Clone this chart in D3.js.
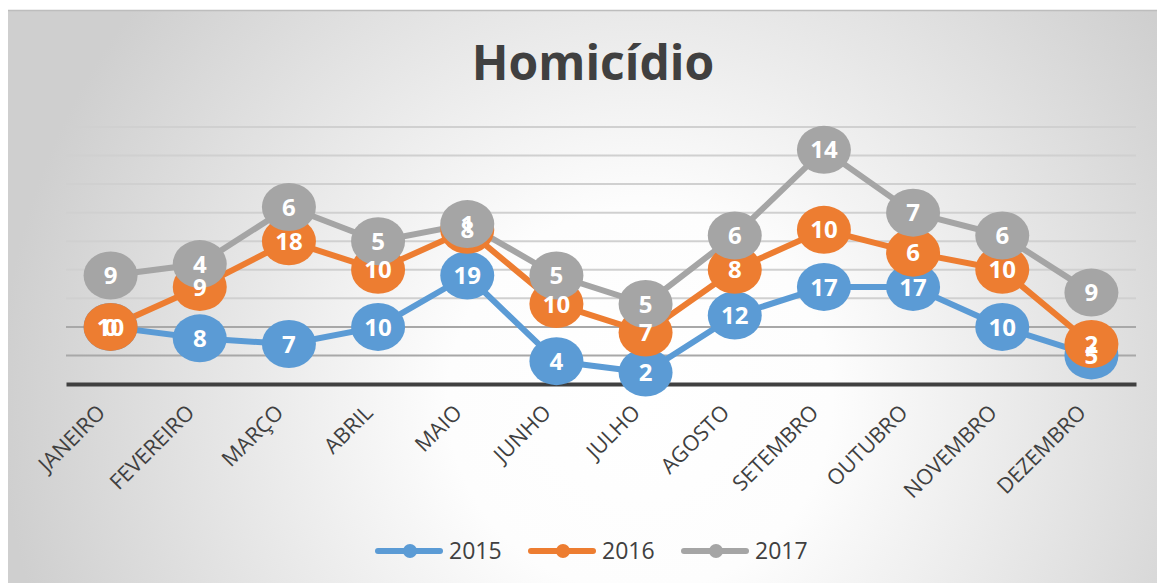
<!DOCTYPE html>
<html>
<head>
<meta charset="utf-8">
<script src="https://cdn.jsdelivr.net/npm/d3@7"></script>
<style>
  body { margin: 0; background: #fff; }
  svg { display: block; font-family: 'Open Sans', 'Noto Sans', sans-serif; }
</style>
</head>
<body>
<div id="chart"></div>
<script>
// Data
const months = ['JANEIRO', 'FEVEREIRO', 'MARÇO', 'ABRIL', 'MAIO', 'JUNHO',
  'JULHO', 'AGOSTO', 'SETEMBRO', 'OUTUBRO', 'NOVEMBRO', 'DEZEMBRO'];
const years = ['2015', '2016', '2017'];
const v2015 = [10, 8, 7, 10, 19, 4, 2, 12, 17, 17, 10, 5];
const v2016 = [0, 9, 18, 10, 8, 10, 7, 8, 10, 6, 10, 2];
const v2017 = [9, 4, 6, 5, 1, 5, 5, 6, 14, 7, 6, 9];
const yTicks = [0, 5, 10, 15, 20, 25, 30, 35, 40, 45];
const colors = ['#5B9BD5', '#ED7D31', '#A5A5A5'];

const svgWidth = 1157, svgHeight = 583;
const margin = { top: 127, right: 21, bottom: 199, left: 66 };
const chartWidth = svgWidth - margin.left - margin.right;
const chartHeight = svgHeight - margin.top - margin.bottom;

const svg = d3.select('#chart').append('svg')
  .attr('width', svgWidth)
  .attr('height', svgHeight);

// Background gradient
const defs = svg.append('defs');
const grad = defs.append('radialGradient')
  .attr('id', 'bg')
  .attr('gradientUnits', 'userSpaceOnUse')
  .attr('cx', 640).attr('cy', 400).attr('r', 640);
grad.append('stop').attr('offset', '0%').attr('stop-color', '#ffffff');
grad.append('stop').attr('offset', '30%').attr('stop-color', '#fdfdfd');
grad.append('stop').attr('offset', '100%').attr('stop-color', '#cfcfcf');

svg.append('rect')
  .attr('x', 8).attr('y', 10)
  .attr('width', svgWidth - 8).attr('height', svgHeight - 10)
  .attr('fill', 'url(#bg)');
svg.append('line')
  .attr('x1', 8).attr('x2', svgWidth)
  .attr('y1', 10.5).attr('y2', 10.5)
  .attr('stroke', '#bdbdbd').attr('stroke-width', 1.5);

// Stack the series
const series = [v2015, v2016, v2017];
const stacked = [];
let running = months.map(() => 0);
series.forEach((vals, i) => {
  running = running.map((r, j) => r + vals[j]);
  stacked.push(months.map((m, j) => ({ month: m, value: vals[j], total: running[j], year: years[i] })));
});

// Scales
const xScale = d3.scaleBand().domain(months).range([0, chartWidth]);
const yScale = d3.scaleLinear().domain([0, 45]).range([chartHeight, 0]);

const chart = svg.append('g')
  .attr('transform', `translate(${margin.left}, ${margin.top})`);

// Gridlines
chart.append('g')
  .selectAll('line')
  .data(yTicks.slice(1))
  .enter()
  .append('line')
  .attr('x1', 0).attr('x2', chartWidth)
  .attr('y1', d => yScale(d)).attr('y2', d => yScale(d))
  .attr('stroke', (d, i) => i < 2 ? '#a8a8a8' : '#d0d0d0')
  .attr('stroke-width', 2);

// X axis
const xAxis = chart.append('g')
  .attr('transform', `translate(0, ${chartHeight})`)
  .call(d3.axisBottom(xScale).tickSize(0).tickPadding(0));
xAxis.attr('font-family', null);
xAxis.select('.domain').attr('stroke', '#404040').attr('stroke-width', 4);
xAxis.selectAll('text')
  .attr('fill', '#404040')
  .style('font-size', '21.5px')
  .style('font-family', "'Open Sans', sans-serif")
  .attr('text-anchor', 'end')
  .attr('dy', 0)
  .attr('transform', 'translate(-4, 30) rotate(-45)');

const cx = d => xScale(d.month) + xScale.bandwidth() / 2;
const line = d3.line().x(cx).y(d => yScale(d.total));

// Lines
chart.selectAll('.series-line')
  .data(stacked)
  .enter()
  .append('path')
  .attr('class', 'series-line')
  .attr('d', d => line(d))
  .attr('fill', 'none')
  .attr('stroke', (d, i) => colors[i])
  .attr('stroke-width', 6)
  .attr('stroke-linejoin', 'round');

// Markers
stacked.forEach((s, i) => {
  chart.append('g')
    .selectAll('ellipse')
    .data(s)
    .enter()
    .append('ellipse')
    .attr('cx', cx)
    .attr('cy', d => yScale(d.total))
    .attr('rx', 27)
    .attr('ry', 24)
    .attr('fill', colors[i]);
});

// Labels
stacked.forEach(s => {
  chart.append('g')
    .selectAll('text')
    .data(s)
    .enter()
    .append('text')
    .attr('x', cx)
    .attr('y', d => yScale(d.total))
    .attr('dy', '0.36em')
    .attr('text-anchor', 'middle')
    .attr('fill', '#fff')
    .style('font-size', '24px')
    .style('font-weight', 'bold')
    .text(d => d.value);
});

// Title
svg.append('text')
  .attr('x', 593)
  .attr('y', 80)
  .attr('text-anchor', 'middle')
  .attr('fill', '#404040')
  .style('font-size', '48px')
  .style('font-weight', 'bold')
  .text('Homicídio');

// Legend
const legendX = [378, 531, 684];
years.forEach((y, i) => {
  const g = svg.append('g').attr('transform', `translate(${legendX[i]}, 551)`);
  g.append('line')
    .attr('x1', 0).attr('x2', 62)
    .attr('stroke', colors[i]).attr('stroke-width', 6)
    .attr('stroke-linecap', 'round');
  g.append('circle').attr('cx', 32).attr('r', 7).attr('fill', colors[i]);
  g.append('text')
    .attr('x', 71)
    .attr('dy', '0.36em')
    .attr('fill', '#404040')
    .style('font-size', '23px')
    .text(y);
});
</script>
</body>
</html>
